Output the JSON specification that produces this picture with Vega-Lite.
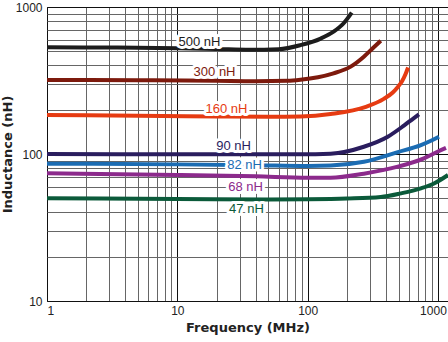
{
  "$schema": "https://vega.github.io/schema/vega-lite/v6.json",
  "width": 401,
  "height": 294,
  "autosize": "none",
  "padding": {"left": 47, "top": 7, "right": 0, "bottom": 41},
  "background": "white",
  "config": {"view": {"stroke": "#222", "strokeWidth": 1}, "font": "Liberation Sans"},
  "datasets": {
    "curves": [
      {"series": "500 nH", "f": 1, "L": 532}, {"series": "500 nH", "f": 3, "L": 530}, {"series": "500 nH", "f": 10, "L": 525}, {"series": "500 nH", "f": 20, "L": 518}, {"series": "500 nH", "f": 36, "L": 511}, {"series": "500 nH", "f": 60, "L": 516}, {"series": "500 nH", "f": 88, "L": 550}, {"series": "500 nH", "f": 126, "L": 610}, {"series": "500 nH", "f": 158, "L": 679}, {"series": "500 nH", "f": 189, "L": 775}, {"series": "500 nH", "f": 218, "L": 915},
      {"series": "300 nH", "f": 1, "L": 319}, {"series": "300 nH", "f": 5, "L": 318}, {"series": "300 nH", "f": 20, "L": 315}, {"series": "300 nH", "f": 40, "L": 313}, {"series": "300 nH", "f": 70, "L": 315}, {"series": "300 nH", "f": 88, "L": 320}, {"series": "300 nH", "f": 120, "L": 333}, {"series": "300 nH", "f": 158, "L": 354}, {"series": "300 nH", "f": 214, "L": 393}, {"series": "300 nH", "f": 270, "L": 459}, {"series": "300 nH", "f": 316, "L": 524}, {"series": "300 nH", "f": 364, "L": 590},
      {"series": "160 nH", "f": 1, "L": 184}, {"series": "160 nH", "f": 5, "L": 182}, {"series": "160 nH", "f": 20, "L": 180}, {"series": "160 nH", "f": 50, "L": 179}, {"series": "160 nH", "f": 88, "L": 180}, {"series": "160 nH", "f": 150, "L": 187}, {"series": "160 nH", "f": 280, "L": 209}, {"series": "160 nH", "f": 384, "L": 237}, {"series": "160 nH", "f": 450, "L": 262}, {"series": "160 nH", "f": 492, "L": 286}, {"series": "160 nH", "f": 530, "L": 312}, {"series": "160 nH", "f": 562, "L": 347}, {"series": "160 nH", "f": 590, "L": 388},
      {"series": "90 nH", "f": 1, "L": 100}, {"series": "90 nH", "f": 20, "L": 99.5}, {"series": "90 nH", "f": 88, "L": 99.5}, {"series": "90 nH", "f": 150, "L": 100.5}, {"series": "90 nH", "f": 270, "L": 112}, {"series": "90 nH", "f": 412, "L": 131}, {"series": "90 nH", "f": 548, "L": 156}, {"series": "90 nH", "f": 650, "L": 175}, {"series": "90 nH", "f": 714, "L": 186},
      {"series": "82 nH", "f": 1, "L": 86}, {"series": "82 nH", "f": 10, "L": 85}, {"series": "82 nH", "f": 40, "L": 84}, {"series": "82 nH", "f": 100, "L": 83}, {"series": "82 nH", "f": 150, "L": 83.5}, {"series": "82 nH", "f": 270, "L": 88.5}, {"series": "82 nH", "f": 492, "L": 103}, {"series": "82 nH", "f": 740, "L": 115}, {"series": "82 nH", "f": 900, "L": 124}, {"series": "82 nH", "f": 1018, "L": 131},
      {"series": "68 nH", "f": 1, "L": 74}, {"series": "68 nH", "f": 10, "L": 72}, {"series": "68 nH", "f": 40, "L": 70.5}, {"series": "68 nH", "f": 100, "L": 69}, {"series": "68 nH", "f": 150, "L": 69}, {"series": "68 nH", "f": 270, "L": 73.5}, {"series": "68 nH", "f": 492, "L": 82}, {"series": "68 nH", "f": 780, "L": 93.5}, {"series": "68 nH", "f": 1000, "L": 104}, {"series": "68 nH", "f": 1152, "L": 110},
      {"series": "47 nH", "f": 1, "L": 50}, {"series": "47 nH", "f": 10, "L": 49.5}, {"series": "47 nH", "f": 50, "L": 49}, {"series": "47 nH", "f": 100, "L": 49.2}, {"series": "47 nH", "f": 200, "L": 49.8}, {"series": "47 nH", "f": 364, "L": 51}, {"series": "47 nH", "f": 519, "L": 54}, {"series": "47 nH", "f": 740, "L": 58.4}, {"series": "47 nH", "f": 932, "L": 63}, {"series": "47 nH", "f": 1194, "L": 72}
    ],
    "labels": [
      {"series": "500 nH", "f": 14.8, "L": 578},
      {"series": "300 nH", "f": 19.3, "L": 361},
      {"series": "160 nH", "f": 23.8, "L": 202},
      {"series": "90 nH", "f": 27.0, "L": 113},
      {"series": "82 nH", "f": 32.8, "L": 84.1},
      {"series": "68 nH", "f": 33.4, "L": 59.7},
      {"series": "47 nH", "f": 33.9, "L": 42.3}
    ]
  },
  "encoding": {
    "x": {
      "field": "f", "type": "quantitative",
      "scale": {"type": "log", "domain": [1, 1194], "nice": false},
      "axis": {
        "values": [1,2,3,4,5,6,7,8,9,10,20,30,40,50,60,70,80,90,100,200,300,400,500,600,700,800,900,1000],
        "labelExpr": "indexof([1,10,100,1000], datum.value) >= 0 ? format(datum.value, 'd') : ''",
        "grid": true,
        "gridColor": {"condition": {"test": "indexof([1,10,100,1000], datum.value) >= 0", "value": "#111"}, "value": "#666666"},
        "gridWidth": 1,
        "ticks": false, "domain": false,
        "labelFontSize": 12, "labelColor": "#222", "labelPadding": 4,
        "labelOffset": {"condition": {"test": "datum.value == 1000", "value": -5}, "value": 0},
        "labelOverlap": false,
        "title": "Frequency (MHz)", "titleFont": "DejaVu Sans", "titleFontSize": 13, "titleFontWeight": "bold", "titleColor": "#222", "titlePadding": 5
      }
    },
    "y": {
      "field": "L", "type": "quantitative",
      "scale": {"type": "log", "domain": [10, 1000], "nice": false},
      "axis": {
        "values": [10,20,30,40,50,60,70,80,90,100,200,300,400,500,600,700,800,900,1000],
        "labelExpr": "indexof([10,100,1000], datum.value) >= 0 ? format(datum.value, 'd') : ''",
        "grid": true,
        "gridColor": {"condition": {"test": "indexof([10,100,1000], datum.value) >= 0", "value": "#111"}, "value": "#666666"},
        "gridWidth": 1,
        "ticks": false, "domain": false,
        "labelFontSize": 12, "labelColor": "#222", "labelPadding": 5,
        "labelOverlap": false,
        "title": "Inductance (nH)", "titleFont": "DejaVu Sans", "titleFontSize": 13, "titleFontWeight": "bold", "titleColor": "#222", "titlePadding": 1
      }
    },
    "color": {
      "field": "series", "type": "nominal",
      "scale": {
        "domain": ["500 nH", "300 nH", "160 nH", "90 nH", "82 nH", "68 nH", "47 nH"],
        "range": ["#1c1c1c", "#7d1a0d", "#e63b12", "#2a1d5e", "#1b6cb3", "#8c2a8c", "#0b5a3a"]
      },
      "legend": null
    }
  },
  "layer": [
    {
      "data": {"name": "curves"},
      "mark": {"type": "line", "strokeWidth": 4, "interpolate": "monotone", "clip": true}
    },
    {
      "data": {"name": "labels"},
      "mark": {"type": "text", "fontSize": 13, "baseline": "middle", "align": "center", "stroke": "white", "strokeWidth": 6, "strokeJoin": "round", "fill": "white"},
      "encoding": {"text": {"field": "series"}, "color": {"value": "white"}}
    },
    {
      "data": {"name": "labels"},
      "mark": {"type": "text", "fontSize": 13, "baseline": "middle", "align": "center"},
      "encoding": {"text": {"field": "series"}}
    }
  ]
}
